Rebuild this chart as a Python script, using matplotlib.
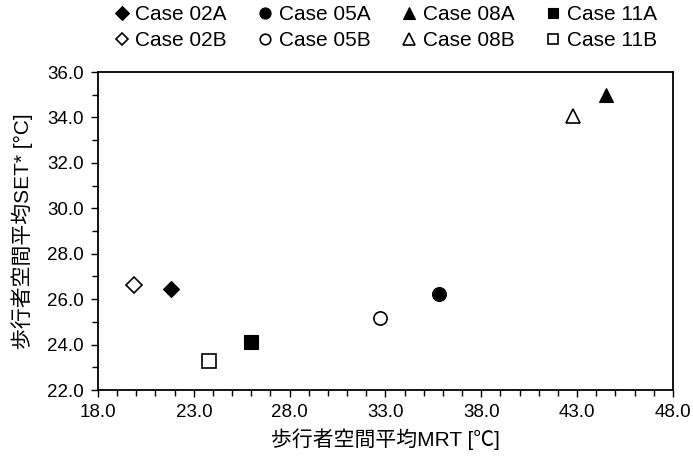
import matplotlib.pyplot as plt
from matplotlib.ticker import MultipleLocator, FormatStrFormatter

plt.rcParams['font.family'] = ['Liberation Sans', 'Noto Sans CJK JP', 'DejaVu Sans']

# mean MRT vs mean SET* in the pedestrian space
cases = ['Case 02A', 'Case 02B', 'Case 05A', 'Case 05B',
         'Case 08A', 'Case 08B', 'Case 11A', 'Case 11B']
mrt = [21.8, 19.9, 35.8, 32.7, 44.5, 42.8, 26.0, 23.8]
set_star = [26.45, 26.64, 26.24, 25.15, 34.98, 34.07, 24.10, 23.28]

markers = ['D', 'D', 'o', 'o', '^', '^', 's', 's']
filled = [True, False, True, False, True, False, True, False]
sizes = [8.5, 8.0, 10, 9.5, 10, 10, 9.5, 9.5]

fig = plt.figure(figsize=(6.93, 4.61), dpi=100)
ax = fig.add_axes([0.1414, 0.154, 0.8297, 0.6898])

for name, x, y, m, f, s in zip(cases, mrt, set_star, markers, filled, sizes):
    ax.plot([x], [y], linestyle='none', marker=m, markersize=s,
            markerfacecolor='black' if f else 'white',
            markeredgecolor='black', markeredgewidth=1.2 if not f else 0.8,
            label=name)

ax.set_xlim(18, 48)
ax.set_ylim(22, 36)
ax.xaxis.set_major_locator(MultipleLocator(5, offset=3))
ax.xaxis.set_minor_locator(MultipleLocator(1))
ax.yaxis.set_major_locator(MultipleLocator(2))
ax.yaxis.set_minor_locator(MultipleLocator(1))
ax.xaxis.set_major_formatter(FormatStrFormatter('%.1f'))
ax.yaxis.set_major_formatter(FormatStrFormatter('%.1f'))

ax.tick_params(which='both', direction='out', top=False, right=False,
               labelsize=13.5, colors='black')
ax.tick_params(which='major', length=5, width=1.0, pad=5)
ax.tick_params(which='minor', length=4, width=1.0)
for sp in ax.spines.values():
    sp.set_linewidth(1.3)

ax.set_xlabel('歩行者空間平均MRT [℃]', fontsize=15, labelpad=5)
ax.set_ylabel('歩行者空間平均SET* [°C]', fontsize=15, labelpad=10)

ax.legend(loc='lower center', bbox_to_anchor=(0.5, 1.0), ncol=4,
          frameon=False, fontsize=15, markerscale=0.8, handlelength=0.7,
          handletextpad=0.3, columnspacing=1.5, labelspacing=0.35,
          borderaxespad=0.65)

fig.savefig('out.png', dpi=100)
